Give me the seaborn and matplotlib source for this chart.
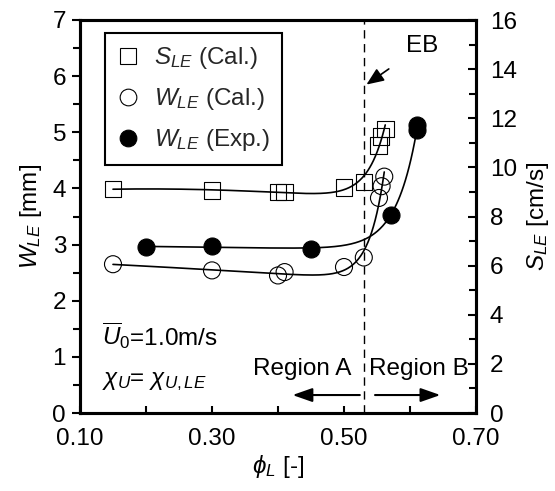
import numpy as np
import pandas as pd
import matplotlib
matplotlib.use("Agg")
import matplotlib.pyplot as plt
from matplotlib.lines import Line2D
from matplotlib.ticker import MultipleLocator, FormatStrFormatter
import seaborn as sns

# ---------------- data ----------------
phi_s = [0.15, 0.30, 0.40, 0.41, 0.50, 0.53, 0.552, 0.556, 0.5625]
s_cal = [9.12, 9.05, 8.99, 8.99, 9.19, 9.40, 10.90, 11.25, 11.57]

phi_wc = [0.15, 0.30, 0.40, 0.41, 0.50, 0.53, 0.553, 0.557, 0.561]
w_cal = [2.65, 2.54, 2.45, 2.51, 2.60, 2.77, 3.83, 4.04, 4.21]

phi_we = [0.20, 0.30, 0.45, 0.571, 0.611, 0.611]
w_exp = [2.95, 2.98, 2.93, 3.53, 5.13, 5.04]

phi_eb = 0.531
xticks = [0.10, 0.30, 0.50, 0.70]

# ---------------- style ----------------
sns.set_theme(style="ticks")
plt.rcParams["font.family"] = ["Liberation Sans", "DejaVu Sans"]
plt.rcParams["mathtext.fontset"] = "custom"
plt.rcParams["mathtext.rm"] = "Liberation Sans"
plt.rcParams["mathtext.it"] = "Liberation Sans:italic"
plt.rcParams["mathtext.fallback"] = "stixsans"
FS = 17.5


def trend(x, y, quad=True, n=300):
    x = np.asarray(x, float)
    y = np.asarray(y, float)
    best = None
    for k in np.linspace(5, 200, 400):
        cols = [np.ones_like(x), x]
        if quad:
            cols.append(x ** 2)
        cols.append(np.exp(k * (x - x.max())))
        A = np.column_stack(cols)
        coef, *_ = np.linalg.lstsq(A, y, rcond=None)
        r = np.sum((A @ coef - y) ** 2)
        if best is None or r < best[0]:
            best = (r, k, coef)
    _, k, coef = best
    xs = np.linspace(x.min(), x.max(), n)
    cols = [np.ones_like(xs), xs]
    if quad:
        cols.append(xs ** 2)
    cols.append(np.exp(k * (xs - x.max())))
    return xs, np.column_stack(cols) @ coef


fig = plt.figure(figsize=(5.55, 4.91), dpi=100)
ax = fig.add_axes([80 / 555, 1 - 413 / 491, 396 / 555, 393 / 491])
ax2 = ax.twinx()

lw = 1.2
# trend lines
xs, ys = trend(phi_wc, w_cal)
sns.lineplot(x=xs, y=ys, ax=ax, color="black", lw=lw, sort=False, estimator=None)
xs, ys = trend(phi_we, w_exp, quad=False)
sns.lineplot(x=xs, y=ys, ax=ax, color="black", lw=lw, sort=False, estimator=None)
xs, ys = trend(phi_s, s_cal)
sns.lineplot(x=xs, y=ys, ax=ax2, color="black", lw=lw, sort=False, estimator=None)

# markers
ms = 150
sns.scatterplot(x=phi_wc, y=w_cal, ax=ax, marker="o", s=ms, facecolor="none",
                edgecolor="black", linewidth=0.8, zorder=3)
sns.scatterplot(x=phi_we, y=w_exp, ax=ax, marker="o", s=ms, color="black",
                edgecolor="black", linewidth=0.8, zorder=3)
sns.scatterplot(x=phi_s, y=s_cal, ax=ax2, marker="s", s=ms * 0.95, facecolor="none",
                edgecolor="black", linewidth=0.8, zorder=3)

# dashed EB line
ax.axvline(phi_eb, color="black", lw=1.0, ls=(0, (6, 4)), zorder=1)

# axes limits / ticks
ax.set_xlim(0.10, 0.70)
ax.set_ylim(0, 7)
ax2.set_ylim(0, 16)
ax.set_xticks(xticks)
ax.xaxis.set_major_formatter(FormatStrFormatter("%.2f"))
ax.xaxis.set_minor_locator(MultipleLocator(0.1))
ax.yaxis.set_major_locator(MultipleLocator(1))
ax.yaxis.set_minor_locator(MultipleLocator(0.5))
ax2.yaxis.set_major_locator(MultipleLocator(2))
ax2.yaxis.set_minor_locator(MultipleLocator(1))

for s in ["left", "right", "top", "bottom"]:
    ax.spines[s].set_linewidth(2.2)
    ax2.spines[s].set_linewidth(2.2)
    ax.spines[s].set_color("black")
    ax2.spines[s].set_color("black")

ax.tick_params(axis="x", which="both", direction="in", colors="black",
               labelsize=FS, width=1.5, pad=11)
ax.tick_params(axis="x", which="major", length=5)
ax.tick_params(axis="x", which="minor", length=5)
ax.tick_params(axis="y", which="both", direction="out", colors="black",
               labelsize=FS, width=1.5, pad=4)
ax.tick_params(axis="y", which="major", length=6)
ax.tick_params(axis="y", which="minor", length=5)
ax2.tick_params(axis="y", which="both", direction="in", colors="black",
                labelsize=FS, width=1.5, pad=10)
ax2.tick_params(axis="y", which="major", length=6)
ax2.tick_params(axis="y", which="minor", length=5)

ax.set_xlabel(r"$\phi_L$ [-]", fontsize=FS, color="black", labelpad=2)
ax.set_ylabel(r"$W_{LE}$ [mm]", fontsize=FS, color="black", labelpad=6)
ax2.set_ylabel(r"$S_{LE}$ [cm/s]", fontsize=FS, color="black", labelpad=6)

# annotations
ax.text(0.133, 1.21, r"$\overline{U}_{\mathit{0}}$=1.0m/s", fontsize=FS, color="black",
        ha="left", va="baseline")
ax.text(0.133, 0.5, r"$\chi_{U}$= $\chi_{U,LE}$", fontsize=FS, color="black",
        ha="left", va="baseline")
ax.text(0.437, 0.78, "Region A", fontsize=FS, ha="center", va="center", color="black")
ax.text(0.614, 0.78, "Region B", fontsize=FS, ha="center", va="center", color="black",
        bbox=dict(facecolor="white", edgecolor="none", pad=0.5))
arrow = dict(arrowstyle="-|>,head_length=1.0,head_width=0.35", color="black", lw=1.5,
             shrinkA=0, shrinkB=0)
ax.annotate("", xy=(0.422, 0.32), xytext=(0.524, 0.32), arrowprops=arrow)
ax.annotate("", xy=(0.646, 0.32), xytext=(0.547, 0.32), arrowprops=arrow)
ax.annotate("EB", xy=(0.534, 5.85), xytext=(0.618, 6.54), fontsize=FS, color="black",
            ha="center", va="center",
            arrowprops=dict(arrowstyle="-|>,head_length=0.6,head_width=0.25",
                            color="black", lw=1.2, shrinkA=12, shrinkB=0))

# legend
handles = [
    Line2D([], [], ls="none", marker="s", ms=11, mfc="none", mec="black", mew=0.8),
    Line2D([], [], ls="none", marker="o", ms=12, mfc="none", mec="black", mew=0.8),
    Line2D([], [], ls="none", marker="o", ms=12, mfc="black", mec="black", mew=0.8),
]
labels = [r"$S_{LE}$ (Cal.)", r"$W_{LE}$ (Cal.)", r"$W_{LE}$ (Exp.)"]
leg = ax2.legend(handles, labels, loc="upper left", bbox_to_anchor=(0.063, 0.967),
                 borderaxespad=0, fontsize=FS, frameon=True, fancybox=False,
                 edgecolor="black", framealpha=1, handlelength=0.9,
                 handletextpad=0.6, labelspacing=0.62, borderpad=0.5)
leg.get_frame().set_linewidth(1.5)

fig.savefig("out.png", dpi=100, facecolor="white")
